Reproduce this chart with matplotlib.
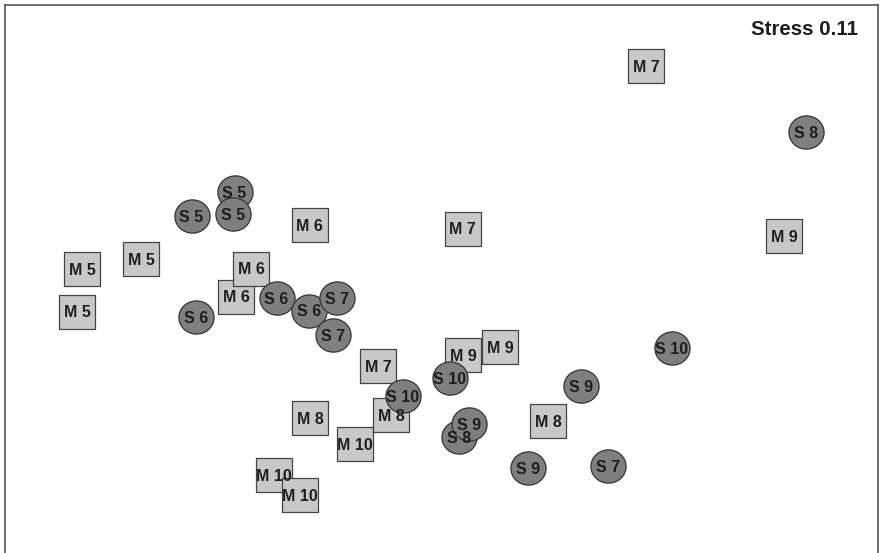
import numpy as np
import matplotlib.pyplot as plt

# NMDS ordination scores (plot units, y increases downward)
m_labels = ["M 7", "M 6", "M 7", "M 9", "M 5", "M 5", "M 5", "M 6", "M 6",
            "M 7", "M 9", "M 9", "M 8", "M 10", "M 8", "M 8", "M 10", "M 10"]
m_x = [646, 309.5, 462.5, 784, 82, 141, 77, 236, 251,
       378, 463, 500, 310, 355, 391, 548, 274, 300]
m_y = [66, 225, 228.5, 236, 269, 259, 311.5, 296.5, 268.5,
       366, 355, 347, 418, 444, 415, 421, 475, 495]

s_labels = ["S 8", "S 5", "S 5", "S 5", "S 6", "S 6", "S 6", "S 7", "S 7",
            "S 10", "S 10", "S 10", "S 9", "S 8", "S 9", "S 9", "S 7"]
s_x = [806, 234.5, 191.5, 233, 196, 276.5, 309, 337, 333,
       672, 449.5, 403, 581, 459, 469, 528, 608]
s_y = [132, 192, 216, 214, 317, 298, 310.5, 298, 335,
       348, 378, 396, 386, 437, 424, 468, 466]

stress = 0.11

plt.rcParams['font.family'] = ['Liberation Sans', 'DejaVu Sans']

fig = plt.figure(figsize=(8.8, 5.53), dpi=100)
ax = fig.add_axes([5/880, 0, 873/880, 548/553])
ax.set_xlim(5, 878)
ax.set_ylim(553, 5)
ax.set_xticks([])
ax.set_yticks([])
for side in ["left", "right", "top"]:
    ax.spines[side].set_color("#555555")
    ax.spines[side].set_linewidth(1.2)
ax.spines["bottom"].set_visible(False)

# slightly flattened markers like the original
rect = [(-1, -0.955), (1, -0.955), (1, 0.955), (-1, 0.955), (-1, -0.955)]
t = np.linspace(0, 2*np.pi, 80)
ellipse = list(zip(np.cos(t), 0.945*np.sin(t)))

for x, y in zip(m_x, m_y):
    ax.plot(x, y, marker=rect, markersize=25.3, markerfacecolor="#c8c8ca",
            markeredgecolor="#444444", markeredgewidth=0.9, linestyle="none",
            zorder=2)
for x, y in zip(s_x, s_y):
    ax.plot(x, y, marker=ellipse, markersize=25.3, markerfacecolor="#7f7f80",
            markeredgecolor="#333333", markeredgewidth=0.9, linestyle="none",
            zorder=2)

for lbl, x, y in list(zip(m_labels, m_x, m_y)) + list(zip(s_labels, s_x, s_y)):
    ax.annotate(lbl, (x, y), xytext=(0, -4.2), textcoords="offset points",
                ha="center", va="baseline", fontsize=11.5, fontweight="bold",
                color="#1e1e1e", zorder=3)

fig.text(858/880, 1 - 35/553, f"Stress {stress:.2f}", ha="right", va="baseline",
         fontsize=14.8, fontweight="bold", color="#1e1e1e")

fig.savefig("out.png", dpi=100)
